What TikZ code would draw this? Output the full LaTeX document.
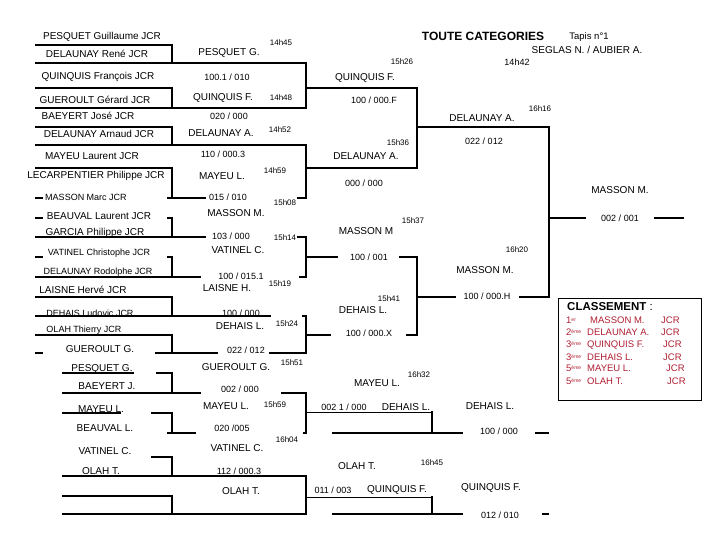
\documentclass[tikz,border=0pt]{standalone}
\usepackage{fontspec}
\setmainfont{Liberation Sans}
\definecolor{rankred}{RGB}{175,30,50}
\newcommand{\ordsup}[1]{\raisebox{2.5pt}{\fontsize{5}{5}\selectfont #1}}

\begin{document}
\begin{tikzpicture}[x=1pt, y=-1pt, inner sep=0pt,
    bar/.style={line width=2.8pt, line cap=rect},
    hair/.style={line width=1pt},
    nm/.style={font=\fontsize{10}{11}\selectfont},
    sm/.style={font=\fontsize{9}{10}\selectfont},
    sc/.style={font=\fontsize{9}{10}\selectfont},
    hr/.style={font=\fontsize{8}{9}\selectfont},
    rk/.style={anchor=base west, text=rankred, font=\fontsize{9.5}{10}\selectfont}]
  \useasboundingbox (0,0) rectangle (720,540);

  % First round (left column)
  \draw[bar] (36,45) -- (172,45) -- (172,63);   \draw[bar] (36,63) -- (306,63);
  \draw[bar] (36,88) -- (172,88) -- (172,108);  \draw[bar] (36,108) -- (306,108);
  \draw[bar] (36,127) -- (172,127) -- (172,145); \draw[bar] (36,145) -- (306,145);
  \draw[bar] (36,168) -- (172,168) -- (172,198);
  \draw[bar] (36,198) -- (42,198);  \draw[bar] (168,198) -- (205,198);  \draw[bar] (298,198) -- (306,198);
  \draw[bar] (36,218) -- (42,218);  \draw[bar] (168,218) -- (172,218) -- (172,237);
  \draw[bar] (36,237) -- (205,237); \draw[bar] (298,237) -- (306,237);
  \draw[bar] (36,257) -- (42,257);  \draw[bar] (168,257) -- (172,257) -- (172,277);
  \draw[bar] (36,277) -- (200,277); \draw[bar] (300,277) -- (306,277);
  \draw[bar] (36,297) -- (172,297) -- (172,316);
  \draw[bar] (36,316) -- (270,316); \draw[bar] (303,316) -- (306,316);
  \draw[bar] (36,335) -- (172,335) -- (172,353);
  \draw[bar] (36,353) -- (42,353);  \draw[bar] (156,353) -- (217,353); \draw[bar] (270,353) -- (306,353);

  % Second round
  \draw[bar] (306,63) -- (306,108);  \draw[bar] (306,145) -- (306,198);
  \draw[bar] (306,237) -- (306,277); \draw[bar] (306,316) -- (306,353);
  \draw[bar] (306,88) -- (417,88);   \draw[bar] (306,168) -- (417,168);
  \draw[bar] (306,257) -- (337,257); \draw[bar] (400,257) -- (417,257);
  \draw[bar] (306,335) -- (330,335); \draw[bar] (407,335) -- (417,335);

  % Semi-finals and final
  \draw[bar] (417,88) -- (417,168);  \draw[bar] (417,257) -- (417,335);
  \draw[bar] (417,127) -- (549,127);
  \draw[bar] (417,297) -- (455,297); \draw[bar] (520,297) -- (549,297);
  \draw[bar] (549,127) -- (549,297);
  \draw[bar] (549,218) -- (585,218); \draw[bar] (655,218) -- (683,218);

  % Repechage
  \draw[bar] (63,373) -- (133,373);  \draw[bar] (157,373) -- (172,373) -- (172,393);
  \draw[bar] (63,393) -- (200,393);  \draw[bar] (282,393) -- (306,393);
  \draw[bar] (63,413) -- (120,413);  \draw[bar] (152,413) -- (172,413) -- (172,433);
  \draw[bar] (168,433) -- (195,433); \draw[bar] (304,433) -- (306,433);
  \draw[bar] (152,457) -- (172,457) -- (172,476); \draw[bar] (63,476) -- (306,476);
  \draw[bar] (63,496) -- (172,496) -- (172,514); \draw[bar] (63,514) -- (306,514);
  \draw[bar] (306,393) -- (306,433); \draw[bar] (306,476) -- (306,514);
  \draw[hair] (306,412) -- (432,412); \draw[bar] (432,412) -- (432,433);
  \draw[bar] (333,433) -- (462,433); \draw[bar] (536,433) -- (548,433);
  \draw[hair] (306,497) -- (432,497); \draw[bar] (432,497) -- (432,514);
  \draw[bar] (333,514) -- (462,514); \draw[bar] (543,514) -- (548,514);

  % Entrants
  \node[nm] (l1) at (102,37) {PESQUET Guillaume JCR};
  \node[nm] (l2) at (97,54) {DELAUNAY René JCR};
  \node[nm] (l3) at (98,77) {QUINQUIS François JCR};
  \node[nm] (l4) at (95,100) {GUEROULT Gérard JCR};
  \node[nm] (l5) at (88,116) {BAEYERT José JCR};
  \node[nm] (l6) at (99,134) {DELAUNAY Arnaud JCR};
  \node[nm] (l7) at (92,156) {MAYEU Laurent JCR};
  \node[nm] (l8) at (96,176) {LECARPENTIER Philippe JCR};
  \node[sm] (l9) at (86,197) {MASSON Marc JCR};
  \node[nm] (l10) at (99,216) {BEAUVAL Laurent JCR};
  \node[nm] (l11) at (95,233) {GARCIA Philippe JCR};
  \node[sm] (l12) at (99,253) {VATINEL Christophe JCR};
  \node[sm] (l13) at (98,272) {DELAUNAY Rodolphe JCR};
  \node[nm] (l14) at (83,290) {LAISNE Hervé JCR};
  \node[sm] (l15) at (90,313) {DEHAIS Ludovic JCR};
  \node[sm] (l16) at (84,330) {OLAH Thierry JCR};
  \node[nm] (l17) at (100,349) {GUEROULT G.};
  \node[nm] (l18) at (102,369) {PESQUET G.};
  \node[nm] (l19) at (107,386) {BAEYERT J.};
  \node[nm] (l20) at (101,409) {MAYEU L.};
  \node[nm] (l21) at (105,428) {BEAUVAL L.};
  \node[nm] (l22) at (105,451) {VATINEL C.};
  \node[nm] (l23) at (101,471) {OLAH T.};

  % Second column
  \node[nm] (m1) at (229,53) {PESQUET G.};   \node[hr] (h1) at (281,43) {14h45};
  \node[sc] (s1) at (227,77) {100.1 / 010};
  \node[nm] (m2) at (223,98) {QUINQUIS F.};  \node[hr] (h2) at (281,98) {14h48};
  \node[sc] (s2) at (229,116) {020 / 000};
  \node[nm] (m3) at (221,133) {DELAUNAY A.}; \node[hr] (h3) at (280,130) {14h52};
  \node[sc] (s3) at (223,154) {110 / 000.3};
  \node[nm] (m4) at (222,176) {MAYEU L.};    \node[hr] (h4) at (275,171) {14h59};
  \node[sc] (s4) at (228,197) {015 / 010};   \node[hr] (h5) at (285,203) {15h08};
  \node[nm] (m5) at (236,213) {MASSON M.};
  \node[sc] (s5) at (231,236) {103 / 000};   \node[hr] (h6) at (285,238) {15h14};
  \node[nm] (m6) at (238,250) {VATINEL C.};
  \node[sc] (s6) at (241,276) {100 / 015.1}; \node[hr] (h7) at (280,284) {15h19};
  \node[nm] (m7) at (227,288) {LAISNE H.};
  \node[sc] (s7) at (241,313) {100 / 000};   \node[hr] (h8) at (287,324) {15h24};
  \node[nm] (m8) at (240,326) {DEHAIS L.};
  \node[sc] (s8) at (246,350) {022 / 012};
  \node[nm] (m9) at (236,367) {GUEROULT G.}; \node[hr] (h9) at (292,363) {15h51};
  \node[sc] (s9) at (240,389) {002 / 000};
  \node[nm] (m10) at (226,406) {MAYEU L.};   \node[hr] (h10) at (275,405) {15h59};
  \node[sc] (s10) at (232,428) {020 /005};
  \node[nm] (m11) at (237,448) {VATINEL C.}; \node[hr] (h11) at (287,440) {16h04};
  \node[sc] (s11) at (239,471) {112 / 000.3};
  \node[nm] (m12) at (241,491) {OLAH T.};

  % Third column
  \node[nm] (t1) at (365,78) {QUINQUIS F.};  \node[hr] (h12) at (402,62) {15h26};
  \node[sc] (s12) at (374,100) {100 / 000.F};
  \node[nm] (t2) at (366,156) {DELAUNAY A.}; \node[hr] (h13) at (398,143) {15h36};
  \node[sc] (s13) at (364,183) {000 / 000};
  \node[nm] (t3) at (366,231) {MASSON M};    \node[hr] (h14) at (413,221) {15h37};
  \node[sc] (s14) at (369,257) {100 / 001};
  \node[nm] (t4) at (363,310) {DEHAIS L.};   \node[hr] (h15) at (389,299) {15h41};
  \node[sc] (s15) at (369,333) {100 / 000.X};
  \node[nm] (t5) at (377,383) {MAYEU L.};    \node[hr] (h16) at (419,375) {16h32};
  \node[sc] (s16) at (344,407) {002 1 / 000}; \node[nm] (t6) at (406,407) {DEHAIS L.};
  \node[nm] (t7) at (357,466) {OLAH T.};     \node[hr] (h17) at (432,463) {16h45};
  \node[sc] (s17) at (333,490) {011 / 003};  \node[nm] (t8) at (397,490) {QUINQUIS F.};

  % Right side
  \node[font=\bfseries\fontsize{12}{13}\selectfont] (ttl) at (483,36) {TOUTE CATEGORIES};
  \node[font=\fontsize{9.5}{10}\selectfont] (tap) at (589,37) {Tapis n°1};
  \node[nm] (arb) at (587,50) {SEGLAS N. / AUBIER A.};
  \node[sc] (h18) at (517,62) {14h42};
  \node[nm] (f1) at (482,118) {DELAUNAY A.}; \node[hr] (h19) at (540,109) {16h16};
  \node[sc] (s18) at (484,141) {022 / 012};
  \node[nm] (win) at (620,190) {MASSON M.};
  \node[sc] (s19) at (620,218) {002 / 001};
  \node[nm] (f2) at (485,270) {MASSON M.};   \node[hr] (h20) at (517,250) {16h20};
  \node[sc] (s20) at (487,296) {100 / 000.H};
  \node[nm] (b1) at (490,406) {DEHAIS L.};
  \node[sc] (s21) at (499,431) {100 / 000};
  \node[nm] (b2) at (491,488) {QUINQUIS F.};
  \node[sc] (s22) at (500,515) {012 / 010};

  % Classement
  \draw[line width=0.9pt] (558,298) rectangle (701,400);
  \node[anchor=west, font=\fontsize{11.5}{12}\selectfont] (cl) at (567,307) {\textbf{CLASSEMENT} :};
  \node[rk] (o1) at (566,323.5) {1\ordsup{er}};  \node[rk] (c1) at (590,323.5) {MASSON M.};   \node[rk] (j1) at (661,323.5) {JCR};
  \node[rk] (o2) at (566,335.5) {2\ordsup{ème}}; \node[rk] (c2) at (587,335.5) {DELAUNAY A.}; \node[rk] (j2) at (661,335.5) {JCR};
  \node[rk] (o3) at (566,347.5) {3\ordsup{ème}}; \node[rk] (c3) at (587,347.5) {QUINQUIS F.}; \node[rk] (j3) at (663,347.5) {JCR};
  \node[rk] (o4) at (566,360.5) {3\ordsup{ème}}; \node[rk] (c4) at (587,360.5) {DEHAIS L.};   \node[rk] (j4) at (663,360.5) {JCR};
  \node[rk] (o5) at (566,371.5) {5\ordsup{ème}}; \node[rk] (c5) at (587,371.5) {MAYEU L.};    \node[rk] (j5) at (666,371.5) {JCR};
  \node[rk] (o6) at (566,384.5) {5\ordsup{ème}}; \node[rk] (c6) at (587,384.5) {OLAH T.};     \node[rk] (j6) at (667,384.5) {JCR};
\end{tikzpicture}
\end{document}
